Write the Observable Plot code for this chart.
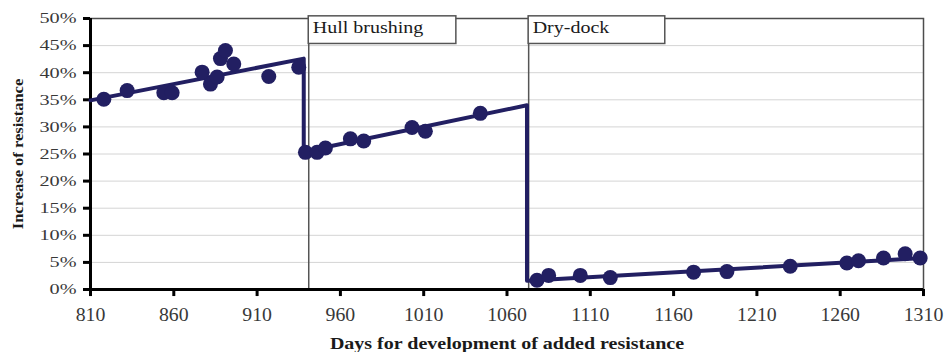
<!DOCTYPE html>
<html>
<head>
<meta charset="utf-8">
<script src="https://cdn.jsdelivr.net/npm/d3@7"></script>
<script src="https://cdn.jsdelivr.net/npm/@observablehq/plot@0.6"></script>
<style>
  body { margin: 0; background: #fff; }
  #chart svg { display: block; font-family: "Liberation Serif", "Times New Roman", serif; }
  #chart svg text { font-family: "Liberation Serif", "Times New Roman", serif; }
</style>
</head>
<body>
<div id="chart"></div>
<script>
// ---- data ----
const dayTicks = [810, 860, 910, 960, 1010, 1060, 1110, 1160, 1210, 1260, 1310];
const pctTicks = [0, 5, 10, 15, 20, 25, 30, 35, 40, 45, 50];

const obsDays = [818, 832, 854, 859, 877, 882, 886, 888, 891, 896, 917, 935,
                 939, 946, 951, 966, 974, 1003, 1011, 1044,
                 1078, 1085, 1104, 1122, 1172, 1192, 1230, 1264, 1271, 1286, 1299, 1308];
const obsIncrease = [35.1, 36.7, 36.3, 36.3, 40.1, 37.9, 39.2, 42.6, 44.1, 41.6, 39.3, 41.0,
                     25.3, 25.3, 26.1, 27.8, 27.4, 29.9, 29.2, 32.5,
                     1.7, 2.6, 2.6, 2.2, 3.2, 3.3, 4.3, 4.9, 5.3, 5.8, 6.6, 5.8];

const trendDays = [810, 938, 938, 1072, 1072, 1310];
const trendIncrease = [34.9, 42.6, 25.4, 34.0, 1.6, 5.8];

const eventDays = [941, 1073];
const eventLabels = ["Hull brushing", "Dry-dock"];
const eventBoxEnd = [1029.6, 1155];

// ---- tables ----
const points = obsDays.map((d, i) => ({day: d, inc: obsIncrease[i]}));
const trend = trendDays.map((d, i) => ({day: d, inc: trendIncrease[i]}));
const events = eventDays.map((d, i) => ({day: d, label: eventLabels[i], end: eventBoxEnd[i]}));

const navy = "#221f62";
const serif = "Liberation Serif";
const BOX_BOTTOM = 45.3, BOX_TOP = 50.4;
const TICK_DAYS = 4.2, TICK_PCT = 1.3;

const plot = Plot.plot({
  width: 947,
  height: 352,
  marginLeft: 90,
  marginRight: 24,
  marginTop: 18,
  marginBottom: 63,
  x: {domain: [810, 1310], axis: null},
  y: {domain: [0, 50], axis: null},
  marks: [
    Plot.ruleY(pctTicks, {y: d => d, stroke: "#d4d4d4", strokeWidth: 1}),
    Plot.frame({stroke: "#4d4d4d", strokeWidth: 1.5}),
    Plot.ruleX(events, {x: "day", y1: 0, y2: BOX_TOP, stroke: "#555", strokeWidth: 1.5}),
    Plot.rect(events, {x1: "day", x2: "end", y1: BOX_BOTTOM, y2: BOX_TOP, fill: "#fff", stroke: "#555", strokeWidth: 1.5}),
    Plot.text(events, {x: "day", text: "label", frameAnchor: "top", dy: 9.5, dx: 4, textAnchor: "start",
      lineAnchor: "middle", fontSize: 16, fontFamily: serif, fill: "#1a1a1a", ariaLabel: () => "boxlabel"}),
    // axes
    Plot.ruleX([dayTicks[0]], {x: d => d, stroke: "#000", strokeWidth: 3}),
    Plot.ruleY([pctTicks[0]], {y: d => d, stroke: "#000", strokeWidth: 3}),
    Plot.ruleY(pctTicks, {y: d => d, x1: dayTicks[0] - TICK_DAYS, x2: dayTicks[0], stroke: "#000", strokeWidth: 3}),
    Plot.ruleX(dayTicks, {x: d => d, y1: pctTicks[0], y2: pctTicks[0] - TICK_PCT, stroke: "#000", strokeWidth: 3}),
    Plot.text(pctTicks, {y: d => d, text: d => d + "%", frameAnchor: "left", textAnchor: "end", lineAnchor: "middle",
      dx: -14, fontSize: 15, fontFamily: serif, fill: "#383838", ariaLabel: () => "ytick"}),
    Plot.text(dayTicks, {x: d => d, text: d => String(d), frameAnchor: "bottom", textAnchor: "middle", lineAnchor: "middle",
      dy: 26, fontSize: 18, fontFamily: serif, fill: "#383838", ariaLabel: () => "xtick"}),
    Plot.text(["Days for development of added resistance"], {text: d => d, frameAnchor: "bottom",
      textAnchor: "middle", lineAnchor: "middle", dy: 54,
      fontSize: 16, fontFamily: serif, fontWeight: "bold", fill: "#1a1a1a", ariaLabel: () => "xlabel"}),
    Plot.text(["Increase of resistance"], {text: d => d, frameAnchor: "left", textAnchor: "middle", lineAnchor: "middle",
      dx: -72, rotate: -90,
      fontSize: 15, fontFamily: serif, fontWeight: "bold", fill: "#1a1a1a", ariaLabel: () => "ylabel"}),
    // data
    Plot.line(trend, {x: "day", y: "inc", stroke: navy, strokeWidth: 4}),
    Plot.dot(points, {x: "day", y: "inc", r: 7.5, fill: navy, stroke: "none"})
  ]
});

document.getElementById("chart").appendChild(plot);

// horizontal stretch of text about its own anchor (reference text is drawn wide)
function stretch(label, k) {
  d3.select(plot).selectAll(`g[aria-label="${label}"] text, text[aria-label="${label}"]`).each(function () {
    const t = this.getAttribute("transform") || "";
    const ax = parseFloat(this.getAttribute("x"));
    const a = Number.isFinite(ax) && !/em/.test(this.getAttribute("x")) ? ax : 0;
    this.setAttribute("transform", `${t} translate(${a},0) scale(${k},1) translate(${-a},0)`);
  });
}
stretch("ytick", 1.35);
stretch("xtick", 1.1);
stretch("boxlabel", 1.25);
stretch("xlabel", 1.25);
stretch("ylabel", 1.1);
</script>
</body>
</html>
